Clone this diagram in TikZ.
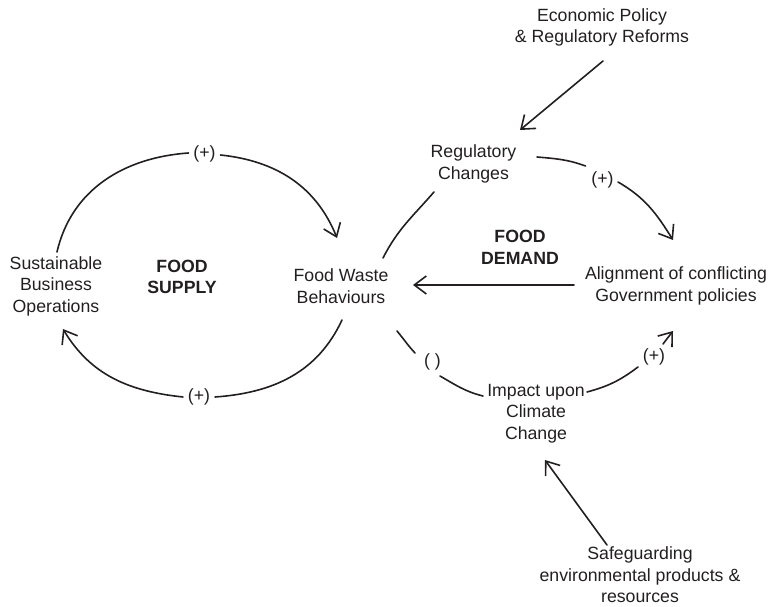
\documentclass[tikz,border=0pt]{standalone}
\usepackage{fontspec}
\setmainfont{Liberation Sans}
\usetikzlibrary{arrows.meta}
\definecolor{ink}{RGB}{35,31,32}
\begin{document}
\begin{tikzpicture}[x=1pt,y=1pt,
  txt/.style={align=center, font=\fontsize{17.7}{21.5}\selectfont, text=ink, inner sep=0pt},
  boldtxt/.style={align=center, font=\fontsize{17.7}{21.5}\selectfont\bfseries, text=ink, inner sep=0pt},
  sign/.style={font=\fontsize{17.7}{21.5}\selectfont, text=ink, inner sep=0pt},
  link/.style={draw=ink, line width=1.6pt, line cap=round},
  arr/.style={link, -{Straight Barb[length=12pt,width=18pt]}},
]
\useasboundingbox (0,0) rectangle (771,607);

% text nodes
\node[txt] (eco) at (602,579.5) {Economic Policy\\\& Regulatory Reforms};
\node[txt] (reg) at (473.5,443) {Regulatory\\Changes};
\node[txt] (agn) at (676,321) {Alignment of conflicting\\Government policies};
\node[txt] (fwb) at (341,321) {Food Waste\\Behaviours};
\node[txt] (sus) at (56,321) {Sustainable\\Business\\Operations};
\node[boldtxt] (supply) at (182,330) {FOOD\\SUPPLY};
\node[boldtxt] (demand) at (520,359.5) {FOOD\\DEMAND};
\node[txt] (impact) at (536,193.5) {Impact upon\\Climate\\Change};
\node[txt] (safe) at (640,32) {Safeguarding\\environmental products \&\\resources};

% polarity labels
\node[sign] (p1) at (204.5,453) {(+)};
\node[sign] (p2) at (199,210) {(+)};
\node[sign] (p3) at (602.5,427) {(+)};
\node[sign] (m1) at (432.5,245) {( )};
\node[sign] (p4) at (654,250) {(+)};

% FOOD SUPPLY loop
\draw[link] ([shift={(1,34)}]sus.center) to[out=77,in=184] ([shift={(-16,1)}]p1.center);
\draw[arr] ([shift={(16,-1)}]p1.center) to[out=-6,in=112] ([shift={(-4,48)}]fwb.center);
\draw[link] ([shift={(1,-34)}]fwb.center) to[out=-115,in=4] ([shift={(16,0)}]p2.center);
\draw[arr] ([shift={(-16,0)}]p2.center) to[out=174,in=-59] ([shift={(7,-43)}]sus.center);

% FOOD DEMAND loop
\draw[link] ([shift={(42,28)}]fwb.center) to[out=63,in=229] ([shift={(-39.5,-28)}]reg.center);
\draw[link] ([shift={(63.5,7)}]reg.center) to[out=-5,in=160] ([shift={(-17,14)}]p3.center);
\draw[arr] ([shift={(15.5,-2)}]p3.center) to[out=-30,in=122] ([shift={(-3,46)}]agn.center);
\draw[arr] ([shift={(-102,1)}]agn.center) -- ([shift={(72,1)}]fwb.center);
\draw[link] ([shift={(56,-45)}]fwb.center) to[out=-50,in=133] ([shift={(-17.5,9)}]m1.center);
\draw[link] ([shift={(7.5,-14)}]m1.center) to[out=-30,in=166] ([shift={(-53,17.5)}]impact.center);
\draw[link] ([shift={(51,21.5)}]impact.center) to[out=15,in=217] ([shift={(-16,-10)}]p4.center);
\draw[arr] ([shift={(9,13)}]p4.center) -- ([shift={(-3,-45)}]agn.center);

% external influences
\draw[arr] ([shift={(1,-33.5)}]eco.center) -- ([shift={(46.5,34)}]reg.center);
\draw[arr] ([shift={(-33,30)}]safe.center) -- ([shift={(9,-46.5)}]impact.center);
\end{tikzpicture}
\end{document}
